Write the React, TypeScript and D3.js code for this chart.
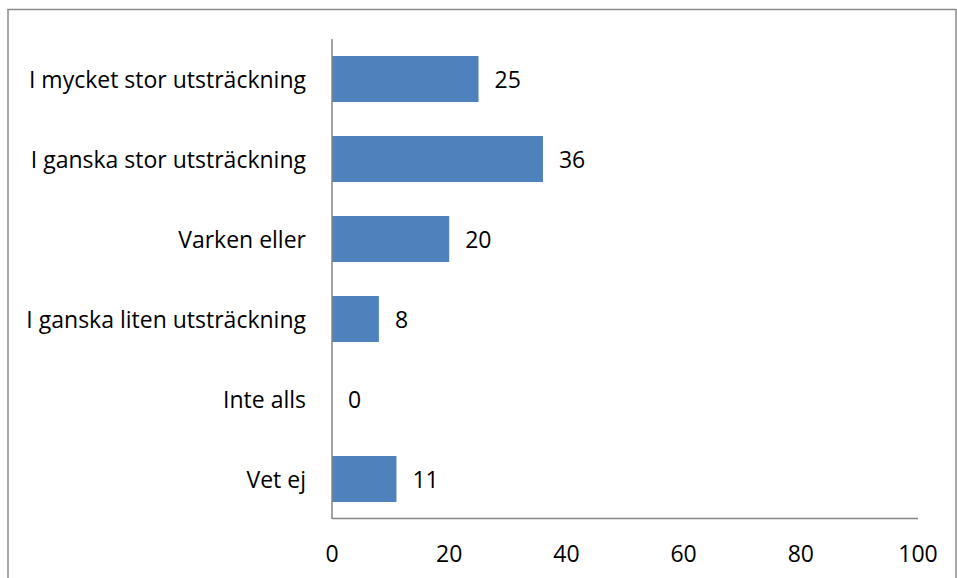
import React from "react";
import * as d3 from "d3";

const categories = [
  "I mycket stor utsträckning",
  "I ganska stor utsträckning",
  "Varken eller",
  "I ganska liten utsträckning",
  "Inte alls",
  "Vet ej",
];
const values = [25, 36, 20, 8, 0, 11];
const xTicks = [0, 20, 40, 60, 80, 100];

const W = 957;
const H = 578;
const FONT = "'Open Sans', sans-serif";
const FS = 23;

export default function App() {
  const x = d3.scaleLinear().domain([0, 100]).range([332, 918]);
  const y = d3
    .scaleBand<string>()
    .domain(categories)
    .range([39, 519])
    .paddingInner(0.425)
    .paddingOuter(0.2125);

  return (
    <svg
      width={W}
      height={H}
      style={{ position: "absolute", left: 0, top: 0, background: "#fff" }}
    >
      <rect
        x={8}
        y={9.5}
        width={948}
        height={600}
        fill="#fff"
        stroke="#8a8a8a"
        strokeWidth={1.5}
      />
      {categories.map((c, i) => (
        <rect
          key={c}
          x={x(0)}
          y={y(c)}
          width={x(values[i]) - x(0)}
          height={y.bandwidth()}
          fill="#4F81BD"
        />
      ))}
      <line x1={332} x2={332} y1={39} y2={519} stroke="#868686" strokeWidth={1.5} />
      <line x1={332} x2={918} y1={518.5} y2={518.5} stroke="#868686" strokeWidth={1.5} />
      {categories.map((c) => (
        <text
          key={"l" + c}
          x={306}
          y={(y(c) as number) + y.bandwidth() / 2}
          textAnchor="end"
          dominantBaseline="central"
          fontFamily={FONT}
          fontSize={FS}
          fill="#000"
        >
          {c}
        </text>
      ))}
      {categories.map((c, i) => (
        <text
          key={"v" + c}
          x={x(values[i]) + 16}
          y={(y(c) as number) + y.bandwidth() / 2}
          textAnchor="start"
          dominantBaseline="central"
          fontFamily={FONT}
          fontSize={FS}
          fill="#000"
        >
          {values[i]}
        </text>
      ))}
      {xTicks.map((t) => (
        <text
          key={"t" + t}
          x={x(t)}
          y={553}
          textAnchor="middle"
          dominantBaseline="central"
          fontFamily={FONT}
          fontSize={FS}
          fill="#000"
        >
          {t}
        </text>
      ))}
    </svg>
  );
}
